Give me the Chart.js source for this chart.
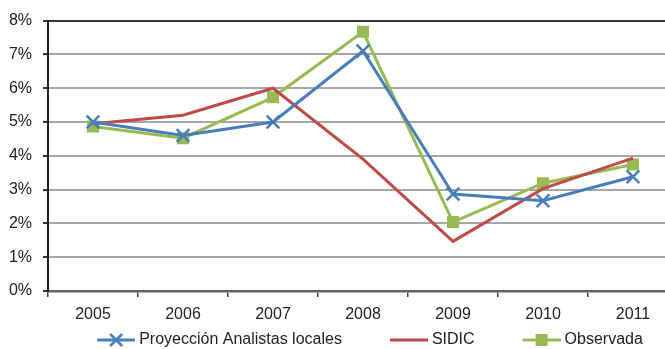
<!DOCTYPE html>
<html>
<head>
<meta charset="utf-8">
<script src="https://cdn.jsdelivr.net/npm/chart.js@4/dist/chart.umd.min.js"></script>
<style>
  html, body { margin: 0; padding: 0; background: #fff; }
  #wrap { width: 665px; height: 349px; overflow: hidden; position: relative; }
  #box { width: 735px; height: 358px; position: absolute; left: 0; top: 0; }
</style>
</head>
<body>
<div id="wrap"><div id="box"><canvas id="c"></canvas></div></div>
<script>
// Years on the horizontal axis
const years = ['2005', '2006', '2007', '2008', '2009', '2010', '2011'];

// Growth rates, in percent
const proyeccion = [5.0, 4.6, 5.0, 7.1, 2.87, 2.67, 3.38];
const sidic      = [4.95, 5.2, 6.0, 3.9, 1.47, 3.03, 3.93];
const observada  = [4.87, 4.52, 5.73, 7.67, 2.04, 3.19, 3.74];

// Vertical axis ticks
const yTicks = [0, 1, 2, 3, 4, 5, 6, 7, 8];

const FONT = "'Liberation Sans Narrow', 'Arial Narrow', 'Liberation Sans', sans-serif";
const BLUE = '#4A7EBB', RED = '#BE4B48', GREEN = '#98B954';

// Legend swatch: a short line with the series marker, drawn at the right end
// of a wider transparent canvas so the items sit further apart.
const SW_BOX = 78;          // legend box width
const SW_W = SW_BOX + 8;    // swatch canvas width (reaches up to the text)
function swatch(color, marker) {
  const cv = document.createElement('canvas');
  cv.width = SW_W; cv.height = 14;
  const g = cv.getContext('2d');
  const x0 = SW_W - 38, xm = SW_W - 19;
  g.strokeStyle = color; g.lineWidth = 3;
  g.beginPath(); g.moveTo(x0, 7); g.lineTo(SW_W, 7); g.stroke();
  if (marker === 'cross') {
    g.lineWidth = 2.5;
    g.beginPath();
    g.moveTo(xm - 6, 1); g.lineTo(xm + 6, 13);
    g.moveTo(xm + 6, 1); g.lineTo(xm - 6, 13);
    g.stroke();
  } else if (marker === 'square') {
    g.fillStyle = color;
    g.fillRect(xm - 6, 1, 12, 12);
  }
  return cv;
}

const swatches = [swatch(BLUE, 'cross'), swatch(RED, null), swatch(GREEN, 'square')];

// Nudge the legend row a little to the right of the canvas centre
const legendShift = {
  id: 'legendShift',
  afterLayout(chart) {
    if (chart.legend) { chart.legend.left += 9; chart.legend.right += 9; }
  }
};

new Chart(document.getElementById('c'), {
  type: 'line',
  data: {
    labels: years,
    datasets: [
      {
        label: 'Proyección Analistas locales',
        data: proyeccion,
        borderColor: BLUE,
        backgroundColor: BLUE,
        borderWidth: 3,
        pointStyle: 'crossRot',
        pointRadius: 9,
        pointBorderWidth: 2.5,
        tension: 0
      },
      {
        label: 'SIDIC',
        data: sidic,
        borderColor: RED,
        backgroundColor: RED,
        borderWidth: 3,
        pointRadius: 0,
        tension: 0
      },
      {
        label: 'Observada',
        data: observada,
        borderColor: GREEN,
        backgroundColor: GREEN,
        borderWidth: 3,
        pointStyle: 'rect',
        pointRadius: 8.5,
        pointBorderWidth: 0,
        tension: 0
      }
    ]
  },
  plugins: [legendShift],
  options: {
    responsive: true,
    maintainAspectRatio: false,
    animation: false,
    events: [],
    layout: { padding: { left: 0, right: 57, top: 18, bottom: 0 } },
    scales: {
      x: {
        offset: true,
        grid: {
          offset: true,
          drawOnChartArea: false,
          drawTicks: true,
          tickLength: 6,
          tickColor: '#444',
          lineWidth: 1.5
        },
        border: { display: true, color: '#666', width: 2.5 },
        ticks: {
          color: '#222',
          font: { family: FONT, size: 16 },
          padding: 8,
          maxRotation: 0,
          autoSkip: false
        },
        afterFit(scale) { scale.height = 37; }
      },
      y: {
        min: 0,
        max: 8,
        afterBuildTicks(scale) { scale.ticks = yTicks.map(v => ({ value: v })); },
        grid: {
          color: ctx => ctx.tick && ctx.tick.value === 8 ? '#333' : (ctx.tick && ctx.tick.value === 0 ? '#666' : '#A6A6A6'),
          lineWidth: 2,
          tickColor: '#333',
          tickLength: 5,
          drawTicks: true
        },
        border: { display: true, color: '#222', width: 2 },
        ticks: {
          color: '#222',
          font: { family: FONT, size: 16 },
          padding: 11,
          callback: v => v + '%'
        },
        afterFit(scale) { scale.width = 48; }
      }
    },
    plugins: {
      tooltip: { enabled: false },
      legend: {
        position: 'bottom',
        labels: {
          color: '#222',
          font: { family: FONT, size: 16 },
          usePointStyle: true,
          pointStyleWidth: SW_BOX,
          padding: 4,
          boxHeight: 14,
          generateLabels(chart) {
            return chart.data.datasets.map((ds, i) => ({
              text: ds.label,
              fillStyle: ds.borderColor,
              strokeStyle: ds.borderColor,
              lineWidth: 0,
              pointStyle: swatches[i],
              hidden: false,
              datasetIndex: i,
              fontColor: '#222'
            }));
          }
        }
      }
    }
  }
});
</script>
</body>
</html>
